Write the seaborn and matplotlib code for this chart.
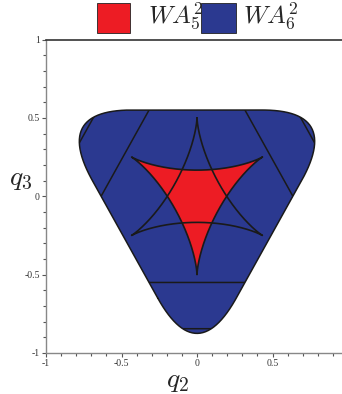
import numpy as np
import seaborn as sns
import matplotlib.pyplot as plt
from matplotlib.patches import Polygon, Rectangle
from matplotlib.ticker import MultipleLocator

# values
outer_inradius = 0.55          # rounded down-pointing triangle (WA_6^2)
corner_cut = 0.52              # length of each edge used up by the corner rounding
line_tri_inradius = [0.55, 0.845]   # up-pointing triangles drawn only as lines
cusp_radius = 0.5              # both deltoids
red_cusp_angle = 30            # red deltoid (WA_5^2), cusps at 30/150/270 deg
line_cusp_angle = 90           # outline deltoid, cusps at 90/210/330 deg

ticks = [-1, -0.5, 0, 0.5, 1]
xtick_labels = ["-1", "-0.5", "0", "0.5", ""]   # the x label "1" falls off the picture
ytick_labels = ["-1", "-0.5", "0", "0.5", "1"]
names = ["$WA_5^2$", "$WA_6^2$"]
colors = ["#ED1C24", "#2B3990"]

sns.set_style("white")
plt.rcParams['mathtext.fontset'] = 'cm'
plt.rcParams['font.family'] = ['Liberation Serif', 'DejaVu Serif']


def deltoid(r, rot):
    t = np.linspace(0, 2 * np.pi, 800)
    a = r / 3
    x = 2 * a * np.cos(t) + a * np.cos(2 * t)
    y = 2 * a * np.sin(t) - a * np.sin(2 * t)
    th = np.radians(rot)
    return x * np.cos(th) - y * np.sin(th), x * np.sin(th) + y * np.cos(th)


def triangle(h, angles):
    ang = np.radians(angles)
    return np.column_stack([2 * h * np.cos(ang), 2 * h * np.sin(ang)])


def rounded_triangle(h, d):
    v = triangle(h, [270, 30, 150])
    pts = []
    t = np.linspace(0, 1, 60)[:, None]
    for i in range(3):
        V, P, N = v[i], v[i - 1], v[(i + 1) % 3]
        p0 = V + d * (P - V) / np.linalg.norm(P - V)
        p2 = V + d * (N - V) / np.linalg.norm(N - V)
        pts.append((1 - t) ** 2 * p0 + 2 * t * (1 - t) * V + t ** 2 * p2)
    return np.vstack(pts)


fig = plt.figure(figsize=(3.42, 3.94), dpi=100)
ax = fig.add_axes([46 / 342, 41 / 394, 302 / 342, 313.5 / 394])

outer = rounded_triangle(outer_inradius, corner_cut)
blue = Polygon(outer, closed=True, facecolor=colors[1], edgecolor='none', zorder=1)
ax.add_patch(blue)
rx, ry = deltoid(cusp_radius, red_cusp_angle)
ax.fill(rx, ry, color=colors[0], zorder=2, lw=0)

# lines inside the region
for h in line_tri_inradius:
    tri = triangle(h, [90, 210, 330, 90])
    sns.lineplot(x=tri[:, 0], y=tri[:, 1], sort=False, estimator=None,
                 color='#1a1a1a', lw=1.1, ax=ax, zorder=3)
    ax.lines[-1].set_clip_path(blue)

for rot in [red_cusp_angle, line_cusp_angle]:
    x, y = deltoid(cusp_radius, rot)
    sns.lineplot(x=x, y=y, sort=False, estimator=None, color='#1a1a1a',
                 lw=1.2, ax=ax, zorder=4)

ox = np.append(outer[:, 0], outer[0, 0])
oy = np.append(outer[:, 1], outer[0, 1])
sns.lineplot(x=ox, y=oy, sort=False, estimator=None, color='#1a1a1a', lw=1.1,
             ax=ax, zorder=5)

ax.set_xlim(-1, 1)
ax.set_ylim(-1, 1)
ax.set_xticks(ticks)
ax.set_xticklabels(xtick_labels)
ax.set_yticks(ticks)
ax.set_yticklabels(ytick_labels)
ax.xaxis.set_minor_locator(MultipleLocator(0.1))
ax.yaxis.set_minor_locator(MultipleLocator(0.1))
ax.tick_params(which='major', direction='out', length=3, width=0.8,
               colors='#555555', labelsize=7, labelcolor='#333333', pad=1.5)
ax.tick_params(which='minor', direction='out', length=2, width=0.8, colors='#555555')
ax.tick_params(left=True, bottom=True, which='both')
for s in ['left', 'bottom']:
    ax.spines[s].set_color('#888888')
    ax.spines[s].set_linewidth(1.0)
ax.spines['top'].set_color('#333333')
ax.spines['top'].set_linewidth(1.2)
ax.spines['right'].set_visible(False)

fig.text(178 / 342, 1 - 382 / 394, "$q_2$", fontsize=20, ha='center', va='center')
fig.text(21 / 342, 1 - 179 / 394, "$q_3$", fontsize=20, ha='center', va='center')

# legend drawn by hand so the two entries overlap like the original
for x0, w, c in [(97, 33, colors[0]), (201, 35, colors[1])]:
    fig.patches.append(Rectangle((x0 / 342, 1 - 33 / 394), w / 342, 30 / 394,
                                 transform=fig.transFigure, facecolor=c,
                                 edgecolor='#222222', lw=0.6, zorder=1))
for x0, name in zip([148, 243], names):
    fig.text(x0 / 342, 1 - 23.3 / 394, name, fontsize=18, ha='left',
             va='baseline', zorder=3)

fig.savefig("out.png", dpi=100)
